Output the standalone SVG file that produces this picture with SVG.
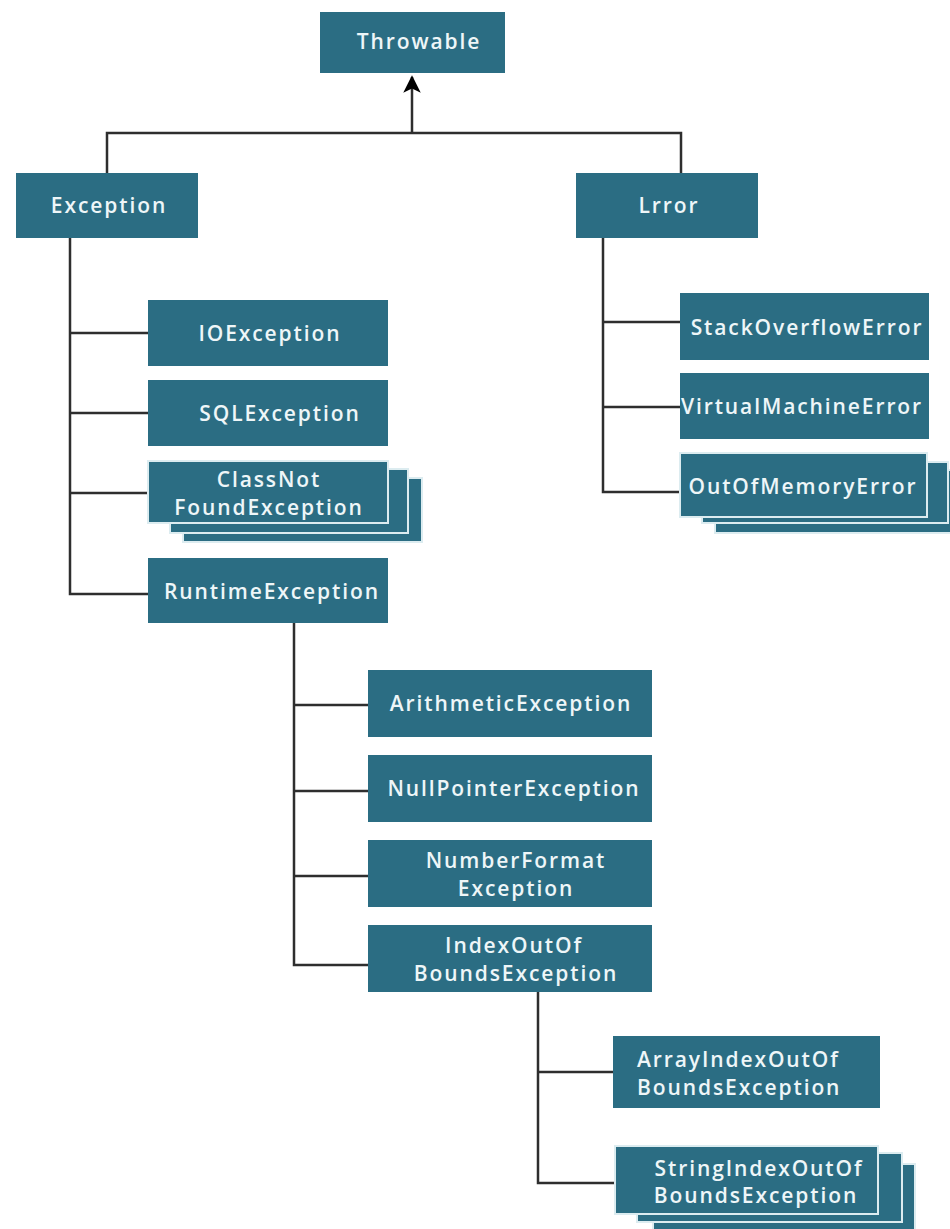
<svg xmlns="http://www.w3.org/2000/svg" width="950" height="1229" viewBox="0 0 950 1229">
  <style>
    .box { fill: #2b6d83; }
    .stack { fill: #2b6d83; stroke: #dcecf0; stroke-width: 2; }
    .lbl { font-family: "Open Sans", "Liberation Sans", sans-serif; font-weight: 600; font-size: 21px; letter-spacing: 1.9px; fill: #eef6f8; text-anchor: middle; }
    .lbl-left { text-anchor: start; }
    .wire { fill: none; stroke: #2e2e2e; stroke-width: 2.5; }
  </style>
  <defs>
    <marker id="arrow" viewBox="0 0 10 10" refX="9" refY="5" markerWidth="7" markerHeight="7" orient="auto" markerUnits="strokeWidth">
      <path d="M0,0 L10,5 L0,10 L2.5,5 z" fill="#000"/>
    </marker>
  </defs>
  <rect width="950" height="1229" fill="#ffffff"/>

  <!-- connectors -->
  <g id="connectors">
    <path class="wire" d="M412,133 V77" marker-end="url(#arrow)"/>
    <path class="wire" d="M107,173 V133 H681 V173"/>
    <!-- Exception children -->
    <path class="wire" d="M70,238 V594 H148"/>
    <path class="wire" d="M70,333 H148 M70,413 H148 M70,493 H148"/>
    <!-- Error children -->
    <path class="wire" d="M603,238 V492 H680"/>
    <path class="wire" d="M603,322 H680 M603,407 H680"/>
    <!-- RuntimeException children -->
    <path class="wire" d="M294,623 V965 H368"/>
    <path class="wire" d="M294,705 H368 M294,791 H368 M294,876 H368"/>
    <!-- IndexOutOfBoundsException children -->
    <path class="wire" d="M538,992 V1183 H615"/>
    <path class="wire" d="M538,1072 H613"/>
  </g>

  <g id="throwable">
    <rect class="box" x="320" y="12" width="185" height="61"/>
    <text class="lbl" x="419" y="49">Throwable</text>
  </g>
  <g id="exception">
    <rect class="box" x="16" y="173" width="182" height="65"/>
    <text class="lbl" x="109" y="213">Exception</text>
  </g>
  <g id="error">
    <rect class="box" x="576" y="173" width="182" height="65"/>
    <text class="lbl" x="669" y="213">Lrror</text>
  </g>

  <g id="ioexception">
    <rect class="box" x="148" y="300" width="240" height="66"/>
    <text class="lbl" x="270" y="341">IOException</text>
  </g>
  <g id="sqlexception">
    <rect class="box" x="148" y="380" width="240" height="66"/>
    <text class="lbl" x="280" y="421">SQLException</text>
  </g>
  <g id="classnotfoundexception">
    <rect class="stack" x="183" y="478" width="239" height="64"/>
    <rect class="stack" x="170" y="469" width="238" height="64"/>
    <rect class="stack" x="148" y="461" width="240" height="62"/>
    <text class="lbl" x="269" y="487">ClassNot</text>
    <text class="lbl" x="269" y="515">FoundException</text>
  </g>
  <g id="runtimeexception">
    <rect class="box" x="148" y="558" width="240" height="65"/>
    <text class="lbl" x="272" y="599">RuntimeException</text>
  </g>

  <g id="stackoverflowerror">
    <rect class="box" x="680" y="293" width="249" height="67"/>
    <text class="lbl" x="807" y="335">StackOverflowError</text>
  </g>
  <g id="virtualmachineerror">
    <rect class="box" x="680" y="373" width="249" height="66"/>
    <text class="lbl" x="802" y="414">VirtualMachineError</text>
  </g>
  <g id="outofmemoryerror">
    <rect class="stack" x="715" y="470" width="245" height="63"/>
    <rect class="stack" x="702" y="462" width="246" height="61"/>
    <rect class="stack" x="680" y="453" width="247" height="64"/>
    <text class="lbl" x="803" y="494">OutOfMemoryError</text>
  </g>

  <g id="arithmeticexception">
    <rect class="box" x="368" y="670" width="284" height="67"/>
    <text class="lbl" x="511" y="711">ArithmeticException</text>
  </g>
  <g id="nullpointerexception">
    <rect class="box" x="368" y="755" width="284" height="67"/>
    <text class="lbl" x="514" y="796">NullPointerException</text>
  </g>
  <g id="numberformatexception">
    <rect class="box" x="368" y="840" width="284" height="67"/>
    <text class="lbl" x="516" y="868">NumberFormat</text>
    <text class="lbl" x="516" y="896">Exception</text>
  </g>
  <g id="indexoutofboundsexception">
    <rect class="box" x="368" y="925" width="284" height="67"/>
    <text class="lbl" x="514" y="953">IndexOutOf</text>
    <text class="lbl" x="516" y="981">BoundsException</text>
  </g>

  <g id="arrayindexoutofboundsexception">
    <rect class="box" x="613" y="1036" width="267" height="72"/>
    <text class="lbl lbl-left" x="637" y="1067">ArrayIndexOutOf</text>
    <text class="lbl lbl-left" x="637" y="1095">BoundsException</text>
  </g>
  <g id="stringindexoutofboundsexception">
    <rect class="stack" x="653" y="1164" width="262" height="70"/>
    <rect class="stack" x="637" y="1153" width="265" height="69"/>
    <rect class="stack" x="615" y="1146" width="263" height="68"/>
    <text class="lbl" x="759" y="1176">StringIndexOutOf</text>
    <text class="lbl" x="756" y="1203">BoundsException</text>
  </g>
</svg>
